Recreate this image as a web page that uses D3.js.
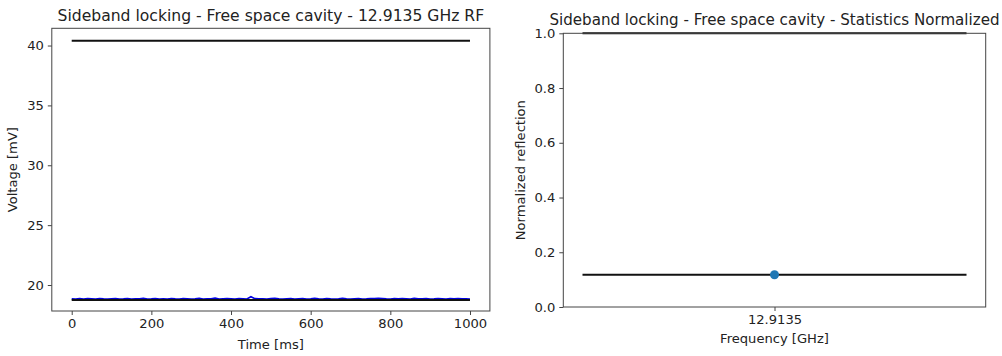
<!DOCTYPE html>
<html><head><meta charset="utf-8">
<script src="https://cdn.jsdelivr.net/npm/d3@7"></script>
<style>
body{margin:0;background:#fff;}
svg{font-family:"DejaVu Sans",sans-serif;}
</style></head>
<body>
<svg id="c" width="1002" height="356"></svg>
<script>
// ---- Data ----
const timeMs = d3.range(0, 1001, 10);
const blueVoltage = [18.84,18.82,18.86,18.83,18.87,18.85,18.82,18.86,18.84,18.83,
18.85,18.87,18.83,18.84,18.86,18.82,18.85,18.84,18.88,18.83,
18.84,18.86,18.82,18.85,18.83,18.87,18.84,18.82,18.86,18.85,
18.83,18.84,18.88,18.82,18.85,18.84,18.91,18.83,18.85,18.86,
18.84,18.82,18.87,18.85,18.83,19.02,18.86,18.84,18.85,18.83,
18.86,18.89,18.84,18.83,18.85,18.87,18.82,18.84,18.86,18.83,
18.85,18.88,18.84,18.82,18.86,18.84,18.83,18.85,18.88,18.84,
18.82,18.85,18.86,18.83,18.84,18.87,18.86,18.90,18.88,18.85,
18.83,18.86,18.84,18.87,18.85,18.82,18.88,18.84,18.85,18.86,
18.83,18.84,18.87,18.85,18.82,18.86,18.84,18.87,18.85,18.84,18.83];
const refTopLine = 40.4;
const baselineLine = 18.75;
const tStart = 0, tEnd = 1000;
const leftYTicks = [20,25,30,35,40];
const leftXTicks = [0,200,400,600,800,1000];

const freqLabels = ["12.9135"];
const normMean = [0.118];
const normLines = [1.0, 0.118];
const rightYTicks = [0.0,0.2,0.4,0.6,0.8,1.0];

const svg = d3.select("#c");
const spine = "#444";

// ---- Left panel ----
const L = {x0:51.8, x1:489.9, y0:28.3, y1:311};
const xL = d3.scaleLinear().domain([-50,1050]).range([L.x0,L.x1]);
const yL = d3.scaleLinear().domain([17.83,41.44]).range([L.y1,L.y0]);
const gL = svg.append("g");
gL.append("line").attr("x1",xL(tStart)).attr("x2",xL(tEnd)).attr("y1",yL(refTopLine)).attr("y2",yL(refTopLine))
  .attr("stroke","#111").attr("stroke-width",2);
gL.append("path").datum(blueVoltage).attr("fill","none").attr("stroke","#0000e0").attr("stroke-width",1.6)
  .attr("d",d3.line().x((d,i)=>xL(timeMs[i])).y(d=>yL(d)));
gL.append("line").attr("x1",xL(tStart)).attr("x2",xL(tEnd)).attr("y1",yL(baselineLine)).attr("y2",yL(baselineLine))
  .attr("stroke","#111").attr("stroke-width",2);

gL.append("g").attr("transform",`translate(0,${L.y1})`)
  .call(d3.axisBottom(xL).tickValues(leftXTicks).tickFormat(d3.format("d")).tickSize(4).tickPadding(4).tickSizeOuter(0));
gL.append("g").attr("transform",`translate(${L.x0},0)`)
  .call(d3.axisLeft(yL).tickValues(leftYTicks).tickFormat(d3.format("d")).tickSize(4).tickPadding(4).tickSizeOuter(0));
gL.append("rect").attr("x",L.x0).attr("y",L.y0).attr("width",L.x1-L.x0).attr("height",L.y1-L.y0)
  .attr("fill","none").attr("stroke",spine).attr("stroke-width",1);
gL.append("text").attr("x",(L.x0+L.x1)/2).attr("y",20.5).attr("text-anchor","middle")
  .attr("font-size",15.6).attr("fill","#222").text("Sideband locking - Free space cavity - 12.9135 GHz RF");
gL.append("text").attr("x",(L.x0+L.x1)/2).attr("y",349).attr("text-anchor","middle")
  .attr("font-size",13.1).attr("fill","#222").text("Time [ms]");
gL.append("text").attr("transform",`translate(17,${(L.y0+L.y1)/2}) rotate(-90)`).attr("text-anchor","middle")
  .attr("font-size",13.1).attr("fill","#222").text("Voltage [mV]");

// ---- Right panel ----
const R = {x0:563.3, x1:985.7, y0:33.3, y1:307};
const xR = d3.scaleLinear().domain([-0.55,0.55]).range([R.x0,R.x1]);
const yR = d3.scaleLinear().domain([0,1]).range([R.y1,R.y0]);
const gR = svg.append("g");
normLines.forEach(v=>{
  gR.append("line").attr("x1",xR(-0.5)).attr("x2",xR(0.5)).attr("y1",yR(v)).attr("y2",yR(v))
    .attr("stroke","#111").attr("stroke-width",2);
});
gR.selectAll("circle.pt").data(normMean).join("circle").attr("class","pt")
  .attr("cx",(d,i)=>xR(i)).attr("cy",d=>yR(d)).attr("r",4.5).attr("fill","#1f77b4");
gR.append("g").attr("transform",`translate(0,${R.y1})`)
  .call(d3.axisBottom(xR).tickValues([0]).tickFormat((d,i)=>freqLabels[i]).tickSize(4).tickPadding(4).tickSizeOuter(0));
gR.append("g").attr("transform",`translate(${R.x0},0)`)
  .call(d3.axisLeft(yR).tickValues(rightYTicks).tickFormat(d3.format(".1f")).tickSize(4).tickPadding(4).tickSizeOuter(0));
gR.append("rect").attr("x",R.x0).attr("y",R.y0).attr("width",R.x1-R.x0).attr("height",R.y1-R.y0)
  .attr("fill","none").attr("stroke",spine).attr("stroke-width",1);
gR.append("text").attr("x",(R.x0+R.x1)/2).attr("y",25).attr("text-anchor","middle")
  .attr("font-size",15.1).attr("fill","#222").text("Sideband locking - Free space cavity - Statistics Normalized");
gR.append("text").attr("x",(R.x0+R.x1)/2).attr("y",343).attr("text-anchor","middle")
  .attr("font-size",13.1).attr("fill","#222").text("Frequency [GHz]");
gR.append("text").attr("transform",`translate(525,${(R.y0+R.y1)/2}) rotate(-90)`).attr("text-anchor","middle")
  .attr("font-size",13.1).attr("fill","#222").text("Normalized reflection");

svg.selectAll(".tick text").attr("font-size",13.1).attr("fill","#222").attr("font-family","DejaVu Sans");
svg.selectAll(".tick line").attr("stroke",spine);
svg.selectAll(".domain").remove();
</script>
</body></html>
